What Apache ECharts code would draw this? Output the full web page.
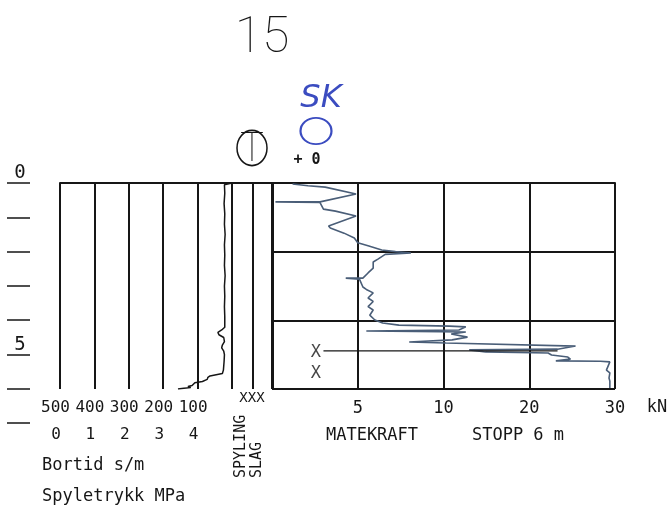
<!DOCTYPE html>
<html>
<head>
<meta charset="utf-8">
<script src="https://cdn.jsdelivr.net/npm/echarts@6/dist/echarts.min.js"></script>
<style>
  html, body { margin: 0; padding: 0; background: #fff; }
  #chart { width: 670px; height: 513px; }
</style>
</head>
<body>
<div id="chart"></div>
<script>
// Feed force (matekraft) against depth, kN / m
const matekraftDepth = [0.03, 0.08, 0.12, 0.32, 0.55, 0.55, 0.57, 0.61, 0.76, 0.82, 0.96, 1.25, 1.31, 1.46, 1.60, 1.74, 1.83, 1.95, 2.00, 2.04, 2.08, 2.21, 2.30, 2.48, 2.62, 2.77, 2.77, 2.80, 3.03, 3.10, 3.20, 3.35, 3.45, 3.60, 3.70, 3.85, 3.99, 4.08, 4.14, 4.17, 4.19, 4.28, 4.31, 4.34, 4.40, 4.49, 4.57, 4.63, 4.66, 4.75, 4.84, 4.86, 4.92, 4.95, 5.01, 5.07, 5.13, 5.18, 5.19, 5.21, 5.45, 5.53, 5.68, 5.77, 5.97];
const matekraftKN    = [1.2, 2.1, 3.1, 4.9, 2.8, 0.2, 2.8, 2.7, 3.0, 3.7, 4.9, 3.3, 3.4, 4.2, 4.8, 5.0, 5.6, 6.4, 7.2, 8.1, 6.6, 6.2, 5.9, 5.9, 5.6, 5.3, 4.3, 5.1, 5.3, 5.5, 5.9, 5.6, 5.9, 5.6, 5.9, 5.7, 6.0, 6.45, 7.4, 10.7, 12.6, 11.8, 5.5, 12.6, 10.9, 12.8, 11.0, 8.0, 10.3, 25.4, 23.3, 13.0, 14.9, 22.2, 22.6, 24.5, 24.8, 23.1, 28.3, 29.4, 29.0, 29.4, 29.3, 29.4, 29.4];

// Penetration time (bortid) against depth, s/m / m
const bortidDepth = [0.00, 0.05, 0.30, 0.60, 0.90, 1.20, 1.50, 1.80, 2.10, 2.40, 2.70, 3.00, 3.30, 3.60, 3.90, 4.20, 4.28, 4.35, 4.42, 4.50, 4.62, 4.72, 4.80, 4.90, 5.00, 5.20, 5.45, 5.55, 5.62, 5.66, 5.72, 5.78, 5.82, 5.90, 5.93, 5.96, 5.98, 6.00];
const bortidSm    = [0, 22, 21, 23, 21, 22, 20, 22, 21, 22, 20, 22, 21, 22, 21, 21, 30, 41, 38, 24, 22, 28, 30, 24, 22, 23, 25, 28, 64, 70, 72, 86, 108, 116, 128, 120, 140, 157];

// Hammering marks (X) and their reference line
const slagMarkDepth = [4.95, 5.56];
const slagMarkKN = [2.56, 2.56];
const slagLineDepth = [4.89, 4.89];
const slagLineKN = [3.0, 23.3];

// Tick labels
const forceTicks = [5, 10, 20, 30];
const bortidTicks = [500, 400, 300, 200, 100];
const spyleTicks = [0, 1, 2, 3, 4];
const depthTicks = [0, 5];

// Force scale: linear to 10 kN, half scale from 10 to 30 kN
function forceToAxis(v) { return v <= 10 ? v : 10 + (v - 10) / 2; }
function axisToForce(u) { return u <= 10 ? u : 10 + (u - 10) * 2; }

const FONT = 'DejaVu Sans Mono';
const INK = '#161616';
const gridLine = { show: true, lineStyle: { color: INK, width: 2 } };
const hiddenY = (gi) => ({
  gridIndex: gi, type: 'value', min: 0, max: 6, inverse: true,
  axisLine: { show: false }, axisTick: { show: false }, axisLabel: { show: false }, splitLine: { show: false }
});

const chart = echarts.init(document.getElementById('chart'), null, { renderer: 'canvas' });

const option = {
  backgroundColor: '#ffffff',
  animation: false,
  grid: [
    { left: 60, top: 183, width: 172, height: 206 },   // bortid panel
    { left: 232, top: 183, width: 41, height: 206 },   // spyling / slag columns
    { left: 272, top: 183, width: 343, height: 206 },  // matekraft
    { left: 30, top: 183, width: 1, height: 240 }      // depth ruler
  ],
  xAxis: [
    {
      gridIndex: 0, type: 'value', position: 'bottom', min: 0, max: 500, interval: 100, inverse: true,
      axisLine: { show: true, lineStyle: { color: INK, width: 2 } },
      axisTick: { show: false },
      splitLine: gridLine,
      axisLabel: {
        margin: 11, fontFamily: FONT, fontSize: 16, color: INK, padding: [0, 9, 0, 0],
        formatter: v => bortidTicks.includes(v) ? String(v) : ''
      }
    },
    {
      gridIndex: 0, type: 'value', position: 'bottom', min: 0, max: 5, interval: 1, offset: 27,
      axisLine: { show: false }, axisTick: { show: false }, splitLine: { show: false },
      axisLabel: {
        margin: 11, fontFamily: FONT, fontSize: 16, color: INK, padding: [0, 8, 0, 0],
        formatter: v => spyleTicks.includes(v) ? String(v) : ''
      }
    },
    {
      gridIndex: 1, type: 'value', position: 'bottom', min: 0, max: 2, interval: 1,
      axisLine: { show: true, lineStyle: { color: INK, width: 2 } },
      axisTick: { show: false }, axisLabel: { show: false },
      splitLine: gridLine
    },
    {
      gridIndex: 2, type: 'value', position: 'bottom', min: 0, max: 20, interval: 5,
      axisLine: { show: true, lineStyle: { color: INK, width: 2 } },
      axisTick: { show: false },
      splitLine: gridLine,
      axisLabel: {
        margin: 11, fontFamily: FONT, fontSize: 17, color: INK,
        formatter: u => { const f = axisToForce(u); return forceTicks.includes(f) ? String(f) : ''; }
      }
    },
    { gridIndex: 3, type: 'value', show: false, min: 0, max: 1 }
  ],
  yAxis: [
    hiddenY(0),
    hiddenY(1),
    {
      gridIndex: 2, type: 'value', min: 0, max: 6, interval: 2, inverse: true,
      axisLine: { show: false }, axisTick: { show: false }, axisLabel: { show: false },
      splitLine: gridLine
    },
    {
      gridIndex: 3, type: 'value', min: 0, max: 7, interval: 1, inverse: true,
      axisLine: { show: false },
      axisTick: { show: true, length: 23, lineStyle: { color: INK, width: 1.5 } },
      splitLine: { show: false },
      axisLabel: {
        margin: 10, align: 'center', verticalAlign: 'bottom',
        fontFamily: FONT, fontSize: 19, color: INK,
        formatter: v => depthTicks.includes(v) ? String(v) : ''
      }
    }
  ],
  series: [
    {
      name: 'Bortid', type: 'line', xAxisIndex: 0, yAxisIndex: 0,
      showSymbol: false, symbol: 'none',
      lineStyle: { color: INK, width: 1.5 },
      data: bortidSm.map((v, i) => [v, bortidDepth[i]])
    },
    {
      name: 'Matekraft', type: 'line', xAxisIndex: 3, yAxisIndex: 2,
      showSymbol: false, symbol: 'none',
      lineStyle: { color: '#4a5e78', width: 1.6 },
      data: matekraftKN.map((v, i) => [forceToAxis(v), matekraftDepth[i]])
    },
    {
      name: 'Slag', type: 'line', xAxisIndex: 3, yAxisIndex: 2,
      showSymbol: false, symbol: 'none',
      lineStyle: { color: INK, width: 1.2 },
      data: slagLineKN.map((v, i) => [forceToAxis(v), slagLineDepth[i]])
    },
    {
      name: 'SlagMerke', type: 'scatter', xAxisIndex: 3, yAxisIndex: 2,
      symbolSize: 1, itemStyle: { color: 'rgba(0,0,0,0)' },
      label: {
        show: true, position: 'inside', formatter: 'X',
        fontFamily: FONT, fontSize: 17, color: INK
      },
      data: slagMarkKN.map((v, i) => [forceToAxis(v), slagMarkDepth[i]])
    }
  ],
  graphic: [
    { type: 'text', x: 262, y: 39, style: { text: '15', fontFamily: 'Roboto', fontWeight: 100, fontSize: 50, fill: INK, align: 'center', verticalAlign: 'middle', textAlign: 'center', textVerticalAlign: 'middle' } },
    { type: 'circle', x: 252, y: 148, scaleY: 1.17, shape: { cx: 0, cy: 0, r: 15 }, style: { fill: 'none', stroke: INK, lineWidth: 1.5, strokeNoScale: true } },
    { type: 'text', x: 252, y: 151, style: { text: 'T', fontFamily: 'Roboto', fontWeight: 100, fontSize: 40, fill: INK, align: 'center', verticalAlign: 'middle', textAlign: 'center', textVerticalAlign: 'middle' } },
    { type: 'text', x: 321, y: 99, style: { text: 'SK', fontFamily: 'DejaVu Sans', fontStyle: 'italic', fontSize: 32, fill: '#3b4cc0', align: 'center', verticalAlign: 'middle', textAlign: 'center', textVerticalAlign: 'middle' } },
    { type: 'circle', x: 316, y: 131, scaleY: 0.85, shape: { cx: 0, cy: 0, r: 15.5 }, style: { fill: 'none', stroke: '#3b4cc0', lineWidth: 2.2, strokeNoScale: true } },
    { type: 'text', x: 307, y: 160, style: { text: '+ 0', fontFamily: FONT, fontWeight: 'bold', fontSize: 15, fill: INK, align: 'center', verticalAlign: 'middle', textAlign: 'center', textVerticalAlign: 'middle' } },
    { type: 'text', x: 252, y: 398, style: { text: 'XXX', fontFamily: FONT, fontSize: 14, fill: INK, align: 'center', verticalAlign: 'middle', textAlign: 'center', textVerticalAlign: 'middle' } },
    { type: 'text', x: 241, y: 478, rotation: Math.PI / 2, style: { text: 'SPYLING', fontFamily: FONT, fontSize: 15, fill: INK, align: 'left', verticalAlign: 'middle', textAlign: 'left', textVerticalAlign: 'middle' } },
    { type: 'text', x: 257, y: 478, rotation: Math.PI / 2, style: { text: 'SLAG', fontFamily: FONT, fontSize: 15, fill: INK, align: 'left', verticalAlign: 'middle', textAlign: 'left', textVerticalAlign: 'middle' } },
    { type: 'text', x: 657, y: 408, style: { text: 'kN', fontFamily: FONT, fontSize: 17, fill: INK, align: 'center', verticalAlign: 'middle', textAlign: 'center', textVerticalAlign: 'middle' } },
    { type: 'text', x: 372, y: 436, style: { text: 'MATEKRAFT', fontFamily: FONT, fontSize: 17, fill: INK, align: 'center', verticalAlign: 'middle', textAlign: 'center', textVerticalAlign: 'middle' } },
    { type: 'text', x: 518, y: 436, style: { text: 'STOPP 6 m', fontFamily: FONT, fontSize: 17, fill: INK, align: 'center', verticalAlign: 'middle', textAlign: 'center', textVerticalAlign: 'middle' } },
    { type: 'text', x: 42, y: 466, style: { text: 'Bortid s/m', fontFamily: FONT, fontSize: 17, fill: INK, align: 'left', verticalAlign: 'middle', textAlign: 'left', textVerticalAlign: 'middle' } },
    { type: 'text', x: 42, y: 497, style: { text: 'Spyletrykk MPa', fontFamily: FONT, fontSize: 17, fill: INK, align: 'left', verticalAlign: 'middle', textAlign: 'left', textVerticalAlign: 'middle' } }
  ]
};

chart.setOption(option);
</script>
</body>
</html>
